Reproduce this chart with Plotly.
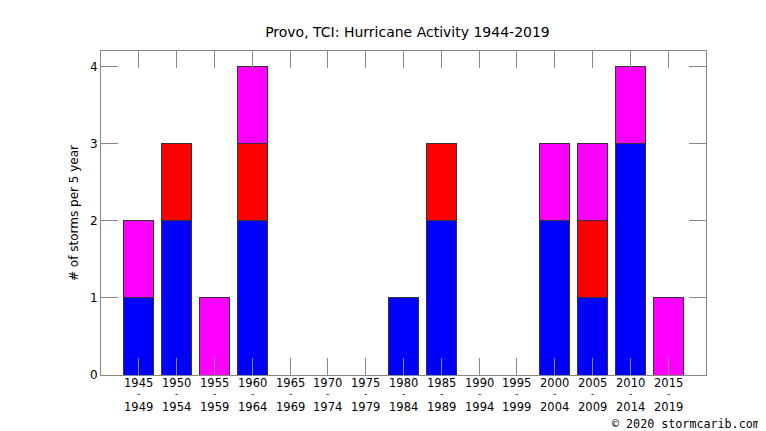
import plotly.graph_objects as go

# 5-year periods and storm counts per category
start_years = ["1945", "1950", "1955", "1960", "1965", "1970", "1975", "1980",
               "1985", "1990", "1995", "2000", "2005", "2010", "2015"]
end_years = ["1949", "1954", "1959", "1964", "1969", "1974", "1979", "1984",
             "1989", "1994", "1999", "2004", "2009", "2014", "2019"]
blue_counts = [1, 2, 0, 2, 0, 0, 0, 1, 2, 0, 0, 2, 1, 3, 0]
red_counts = [0, 1, 0, 1, 0, 0, 0, 0, 1, 0, 0, 0, 1, 0, 0]
magenta_counts = [1, 0, 1, 1, 0, 0, 0, 0, 0, 0, 0, 1, 1, 1, 1]
y_ticks = [0, 1, 2, 3, 4]

FONT = "DejaVu Sans, sans-serif"
AXIS_GRAY = "#888888"

periods = [f"{a}-{b}" for a, b in zip(start_years, end_years)]

fig = go.Figure()
for vals, col in [(blue_counts, "#0000ff"), (red_counts, "#ff0000"), (magenta_counts, "#ff00ff")]:
    fig.add_trace(go.Bar(
        x=periods, y=vals,
        marker=dict(color=col, line=dict(color="#333333", width=1)),
        width=0.8,
        showlegend=False,
    ))

# three-line period labels under each bar (tighter spacing than plotly's tick labels)
annotations = []
for p, a, b in zip(periods, start_years, end_years):
    for txt, yy, sz in [(a, -0.0256, 11.5), ("-", -0.0586, 9), (b, -0.0988, 11.5)]:
        annotations.append(dict(
            text=txt, x=p, xref="x", y=yy, yref="paper",
            xanchor="center", yanchor="middle", showarrow=False,
            font=dict(size=sz, family=FONT, color="black"),
        ))

annotations.append(dict(
    text="© 2020 stormcarib.com",
    xref="paper", yref="paper", x=1.0926, y=-0.151,
    xanchor="right", yanchor="middle", showarrow=False,
    font=dict(family="DejaVu Sans Mono, monospace", size=11.7, color="black"),
))

# page body has an 8px default margin, so the figure is shrunk to fit the window
fig.update_layout(
    barmode="stack",
    width=758, height=423,
    margin=dict(l=93, r=60, t=43, b=56),
    plot_bgcolor="white",
    paper_bgcolor="white",
    font=dict(family=FONT, color="black", size=12),
    title=dict(text="Provo, TCI: Hurricane Activity 1944-2019",
               x=0.527, xanchor="center", y=0.943, yanchor="middle",
               font=dict(size=14, family=FONT)),
    xaxis=dict(
        type="category",
        range=[-1, 15],
        showgrid=False, zeroline=False,
        showline=True, linecolor=AXIS_GRAY, linewidth=1, mirror="ticks",
        ticks="inside", ticklen=17, tickcolor=AXIS_GRAY, tickwidth=1,
        showticklabels=False,
    ),
    yaxis=dict(
        range=[0, 4.2],
        tickvals=y_ticks,
        showgrid=False, zeroline=False,
        showline=True, linecolor=AXIS_GRAY, linewidth=1, mirror="ticks",
        ticks="inside", ticklen=17, tickcolor=AXIS_GRAY, tickwidth=1,
        tickfont=dict(size=12, family=FONT),
        title=dict(text="# of storms per 5 year", font=dict(size=12, family=FONT), standoff=8),
    ),
    annotations=annotations,
)

fig.write_html("out.html")
